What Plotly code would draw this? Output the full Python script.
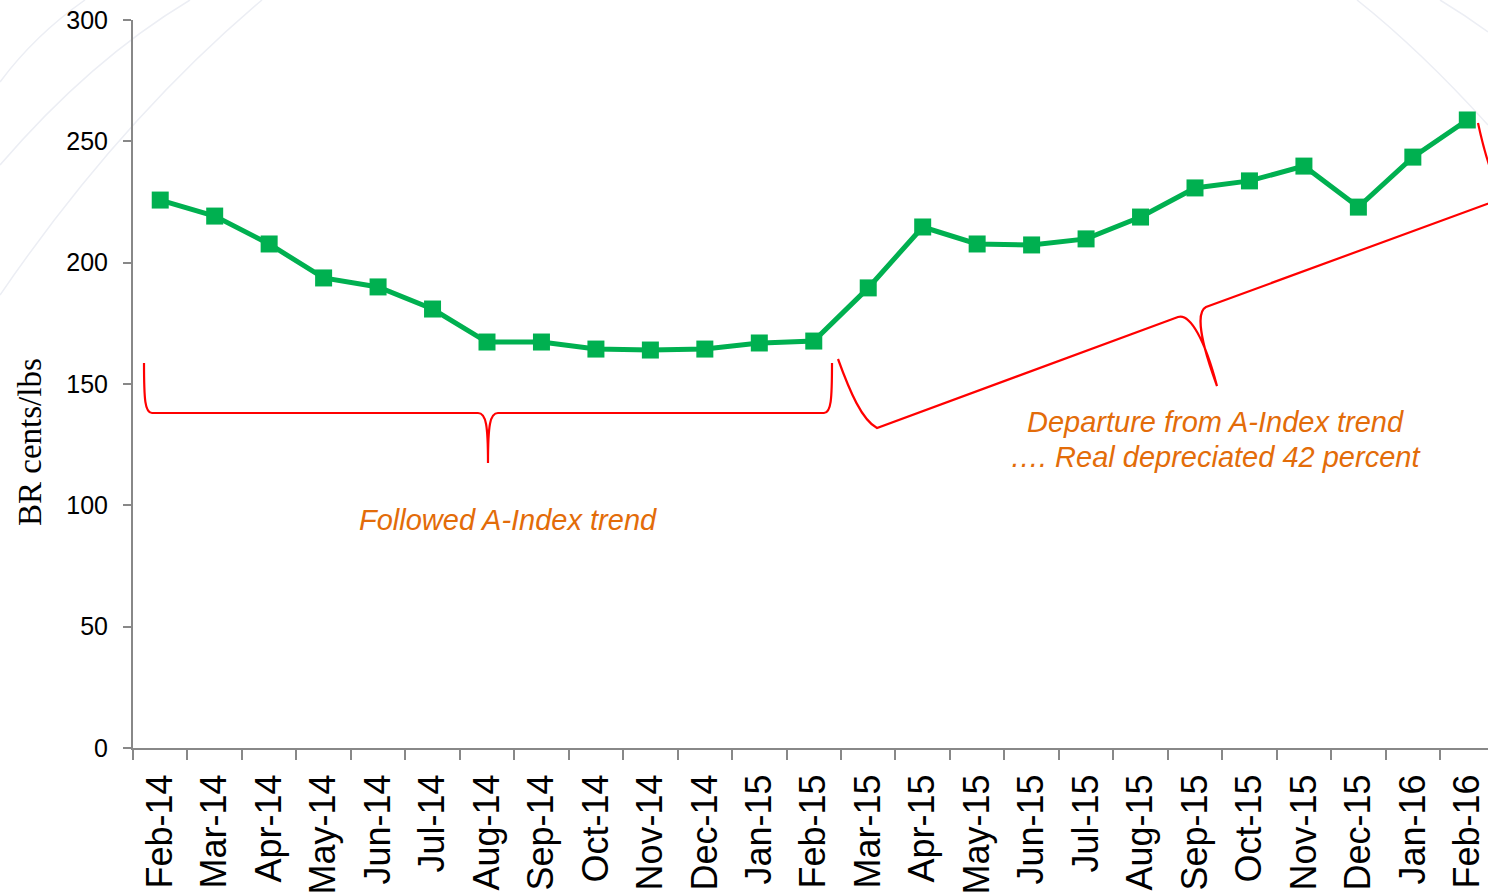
import plotly.graph_objects as go

# ---------------- data ----------------
months = ["Feb-14", "Mar-14", "Apr-14", "May-14", "Jun-14", "Jul-14", "Aug-14",
          "Sep-14", "Oct-14", "Nov-14", "Dec-14", "Jan-15", "Feb-15", "Mar-15",
          "Apr-15", "May-15", "Jun-15", "Jul-15", "Aug-15", "Sep-15", "Oct-15",
          "Nov-15", "Dec-15", "Jan-16", "Feb-16"]
br_price = [225.8, 219.2, 207.7, 193.7, 190.0, 180.9, 167.3, 167.3, 164.4,
            164.0, 164.4, 166.9, 167.7, 189.6, 214.7, 207.7, 207.3, 209.8,
            218.8, 230.8, 233.7, 239.8, 222.9, 243.5, 258.8]
y_ticks = [0, 50, 100, 150, 200, 250, 300]

y_title = "BR cents/lbs"
note_left = "Followed A-Index trend"
note_right_1 = "Departure from A-Index trend"
note_right_2 = "…. Real depreciated 42 percent"

# ---------------- layout helpers ----------------
W, H = 1488, 894
ML, MR, MT, MB = 133, 0, 20, 146
PW, PH = W - ML - MR, H - MT - MB


def pp(px, py):
    """pixel position on the page -> paper coordinates"""
    return (px - ML) / PW, (H - MB - py) / PH


def path(cmds):
    out = []
    for c in cmds:
        if isinstance(c, str):
            out.append(c)
        else:
            x, y = pp(*c)
            out.append(f"{x:.5f},{y:.5f}")
    return " ".join(out)


RED = "#FF0000"
ORANGE = "#E36C09"
AXIS = "#888888"
GREEN = "#00B050"

fig = go.Figure()
fig.add_trace(go.Scatter(
    x=months, y=br_price, mode="lines+markers",
    line=dict(color=GREEN, width=5),
    marker=dict(symbol="square", size=17, color=GREEN),
    showlegend=False, cliponaxis=False,
))

shapes = []
# faint background arcs (slide decoration)
arc_style = dict(type="path", xref="paper", yref="paper", layer="below",
                 line=dict(color="#ECEEF4", width=1.5))
shapes.append(dict(path=path(["M", (0, 82), "Q", (35, 35), (85, 0)]), **arc_style))
shapes.append(dict(path=path(["M", (0, 165), "Q", (90, 60), (190, 0)]), **arc_style))
shapes.append(dict(path=path(["M", (0, 295), "Q", (120, 120), (262, 0)]), **arc_style))
shapes.append(dict(path=path(["M", (1357, 0), "Q", (1420, 50), (1488, 125)]), **arc_style))
shapes.append(dict(path=path(["M", (1440, 0), "Q", (1465, 15), (1488, 32)]), **arc_style))

brace_style = dict(type="path", xref="paper", yref="paper",
                   line=dict(color=RED, width=2.2))
# brace under the 2014 part
shapes.append(dict(path=path([
    "M", (144, 363), "C", (144, 400), (145, 413), (152, 413),
    "L", (478, 413), "C", (486, 413), (488, 425), (488, 463),
    "C", (488, 425), (490, 413), (498, 413),
    "L", (824, 413), "C", (831, 413), (832, 400), (832, 363)]), **brace_style))
# tilted brace under the 2015 part
shapes.append(dict(path=path([
    "M", (838, 359), "C", (850, 392), (862, 420), (877, 428),
    "L", (1178, 317), "C", (1190, 313), (1205, 340), (1217, 386),
    "C", (1200, 340), (1196, 312), (1206, 307),
    "L", (1506, 197), "C", (1498, 196), (1486, 160), (1478, 123)]), **brace_style))

note_font = dict(family="Arial, Liberation Sans", size=29, color=ORANGE,
                 style="italic")
ax1, ay1 = pp(508, 520)
bx1, by1 = pp(1215, 422)
bx2, by2 = pp(1215, 457)
yx, yy = pp(30, 442)
annotations = [
    dict(text=note_left, x=ax1, y=ay1, xref="paper", yref="paper",
         xanchor="center", yanchor="middle", showarrow=False, font=note_font),
    dict(text=note_right_1, x=bx1, y=by1, xref="paper", yref="paper",
         xanchor="center", yanchor="middle", showarrow=False, font=note_font),
    dict(text=note_right_2, x=bx2, y=by2, xref="paper", yref="paper",
         xanchor="center", yanchor="middle", showarrow=False, font=note_font),
    dict(text=y_title, x=yx, y=yy, xref="paper", yref="paper", textangle=-90,
         xanchor="center", yanchor="middle", showarrow=False,
         font=dict(family="Times New Roman, Liberation Serif", size=33,
                   color="#000000")),
]

fig.update_layout(
    width=W, height=H,
    margin=dict(l=ML, r=MR, t=MT, b=MB, pad=0),
    paper_bgcolor="white", plot_bgcolor="white",
    shapes=shapes, annotations=annotations,
    xaxis=dict(type="category", categoryorder="array", categoryarray=months,
               range=[-0.5, 24.38], tickson="boundaries",
               ticks="outside", ticklen=10, tickwidth=2, tickcolor=AXIS,
               showline=True, linecolor=AXIS, linewidth=2, showgrid=False,
               tickangle=-90, automargin=False, ticklabelstandoff=10,
               tickfont=dict(family="Arial, Liberation Sans", size=36,
                             color="#000000")),
    yaxis=dict(range=[0, 300], tickvals=y_ticks, ticks="outside", ticklen=8,
               tickwidth=2, tickcolor=AXIS, showline=True, linecolor=AXIS,
               linewidth=2, showgrid=False, zeroline=False, automargin=False,
               ticklabelstandoff=10,
               tickfont=dict(family="Arial, Liberation Sans", size=25,
                             color="#000000")),
)

fig.write_html("out.html", config={"displayModeBar": False},
               post_script="document.body.style.margin='0';"
                           "document.body.style.overflow='hidden';")
